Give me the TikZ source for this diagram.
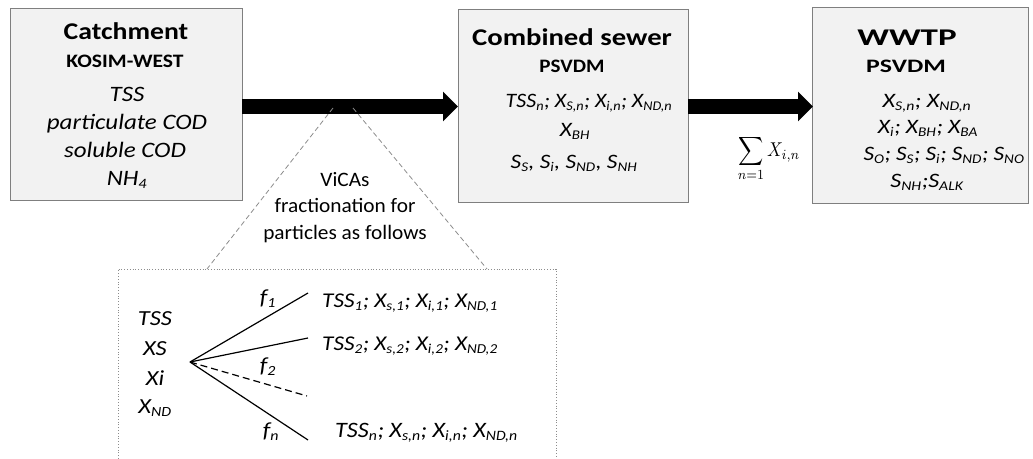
\documentclass[tikz,border=0pt]{standalone}
\usepackage[no-math]{fontspec}
\setmainfont{Carlito}
\usetikzlibrary{arrows.meta}
\renewcommand{\defaultscriptratio}{.65}
\definecolor{boxfill}{HTML}{F2F2F2}
\definecolor{boxline}{HTML}{7F7F7F}
\definecolor{zoomline}{HTML}{8C8C8C}
\newcommand{\sbt}[1]{\textsubscript{#1}}
\newcommand{\hs}[2]{\scalebox{#1}[1]{#2}}
\tikzset{
  stagebox/.style={draw=boxline, line width=0.9pt, fill=boxfill},
  title/.style={anchor=base, font=\fontsize{24}{28}\selectfont\bfseries, inner sep=0pt},
  subtitle/.style={anchor=base, font=\fontsize{19}{22}\selectfont\bfseries, inner sep=0pt},
  var/.style={anchor=base, font=\fontsize{20.5}{24}\selectfont\itshape, inner sep=0pt},
  cvar/.style={anchor=base, font=\fontsize{22}{25}\selectfont\itshape, inner sep=0pt},
  lowvar/.style={anchor=base west, font=\fontsize{21}{25}\selectfont\itshape, inner sep=0pt},
  leftvar/.style={anchor=base, font=\fontsize{21.5}{25}\selectfont\itshape, inner sep=0pt},
  flow/.style={line width=15pt, -{Triangle[length=15pt,width=29pt]}},
  zoomlink/.style={draw=zoomline, line width=0.8pt, dash pattern=on 5pt off 3pt},
  fan/.style={line width=1.2pt},
}
\begin{document}
\begin{tikzpicture}[x=1pt,y=-1pt]
\useasboundingbox (0,0) rectangle (1033,458);
% boxes
\draw[stagebox] (10,8) rectangle (242,200);
\draw[stagebox] (458,9) rectangle (688,202);
\draw[stagebox] (812,7) rectangle (1028,203);
\coordinate (catchE) at (242,106.5);
\coordinate (sewerW) at (458,106.5);
\coordinate (sewerE) at (688,106.5);
\coordinate (wwtpW) at (813,106.5);
% catchment text
\node[title] (c1) at (126,39) {\hs{1.155}{Catchment}};
\node[subtitle] (c2) at (125,67) {\hs{1.136}{KOSIM-WEST}};
\node[cvar] (c3) at (127,101) {\hs{1.136}{TSS}};
\node[cvar] (c4) at (127,129) {\hs{1.136}{particulate COD}};
\node[cvar] (c5) at (125,157) {\hs{1.136}{soluble COD}};
\node[cvar] (c6) at (127,185) {\hs{1.136}{NH\sbt{4}}};
% combined sewer text
\node[title] (s1) at (572,45) {\hs{1.196}{Combined sewer}};
\node[subtitle] (s2) at (572,72) {\hs{1.11}{PSVDM}};
\node[var] (s3) at (589,107) {\hs{1.07}{TSS\sbt{n}; X\sbt{S,n}; X\sbt{i,n}; X\sbt{ND,n}}};
\node[var] (s4) at (575,136) {\hs{1.13}{X\sbt{BH}}};
\node[var] (s5) at (574,168) {\hs{1.14}{S\sbt{S}, S\sbt{i}, S\sbt{ND}, S\sbt{NH}}};
% wwtp text
\node[title] (w1) at (907,45) {\hs{1.46}{WWTP}};
\node[subtitle] (w2) at (906,72) {\hs{1.36}{PSVDM}};
\node[var] (w3) at (927,107) {\hs{1.18}{X\sbt{S,n}; X\sbt{ND,n}}};
\node[var] (w4) at (928,133) {\hs{1.15}{X\sbt{i}; X\sbt{BH}; X\sbt{BA}}};
\node[var] (w5) at (944,160) {\hs{1.14}{S\sbt{O}; S\sbt{S}; S\sbt{i}; S\sbt{ND}; S\sbt{NO}}};
\node[var] (w6) at (927,187) {\hs{1.18}{S\sbt{NH};S\sbt{ALK}}};
% arrows
\draw[flow] (catchE) -- (sewerW);
\draw[flow] (sewerE) -- (wwtpW);
\node[anchor=base, inner sep=0pt] (sum) at (769,156) {\scalebox{1.75}[2.0]{$\displaystyle\sum_{n=1} X_{i,n}$}};
% zoom lines
\coordinate (zl1) at (333,108);
\coordinate (zr1) at (353,108);
\coordinate (zl2) at (207,269);
\coordinate (zr2) at (487,269);
\draw[zoomlink] (zl1) -- (zl2);
\draw[zoomlink] (zr1) -- (zr2);
\node[anchor=base, inner sep=0pt, font=\fontsize{20.5}{26.5}\selectfont] (vicas) at (345,239) {\hs{1.04}{\begin{tabular}[b]{@{}c@{}}ViCAs\\fractionation for\\particles as follows\end{tabular}}};
% lower box
\coordinate (lbBL) at (118,470);
\coordinate (lbTL) at (118,269);
\coordinate (lbTR) at (556,269);
\coordinate (lbBR) at (556,470);
\draw[draw=zoomline, line width=0.8pt, dotted] (lbBL) -- (lbTL) -- (lbTR) -- (lbBR);
% left labels
\node[leftvar] (l1) at (155,325) {\hs{1.14}{TSS}};
\node[leftvar] (l2) at (155,355) {\hs{1.14}{XS}};
\node[leftvar] (l3) at (155,385) {\hs{1.14}{Xi}};
\node[leftvar] (l4) at (155,413) {\hs{1.14}{X\sbt{ND}}};
% fan
\coordinate (fo) at (190,362);
\coordinate (fe1) at (308,293);
\coordinate (fe2) at (308,338);
\coordinate (fe3) at (307,396);
\coordinate (fe4) at (308,440);
\draw[fan] (fo) -- (fe1);
\draw[fan] (fo) -- (fe2);
\draw[fan, dash pattern=on 7pt off 4pt] (fo) -- (fe3);
\draw[fan] (fo) -- (fe4);
\node[leftvar] (f1) at (268,304) {\hs{1.14}{f\sbt{1}}};
\node[leftvar] (f2) at (268,372) {\hs{1.14}{f\sbt{2}}};
\node[leftvar] (fn) at (271,437) {\hs{1.14}{f\sbt{n}}};
\node[lowvar] (r1) at (322,307) {\hs{1.11}{TSS\sbt{1}; X\sbt{s,1}; X\sbt{i,1}; X\sbt{ND,1}}};
\node[lowvar] (r2) at (322,350) {\hs{1.11}{TSS\sbt{2}; X\sbt{s,2}; X\sbt{i,2}; X\sbt{ND,2}}};
\node[lowvar, font=\fontsize{22}{25}\selectfont\itshape] (rn) at (335,437) {\hs{1.1}{TSS\sbt{n}; X\sbt{s,n}; X\sbt{i,n}; X\sbt{ND,n}}};
\end{tikzpicture}
\end{document}
